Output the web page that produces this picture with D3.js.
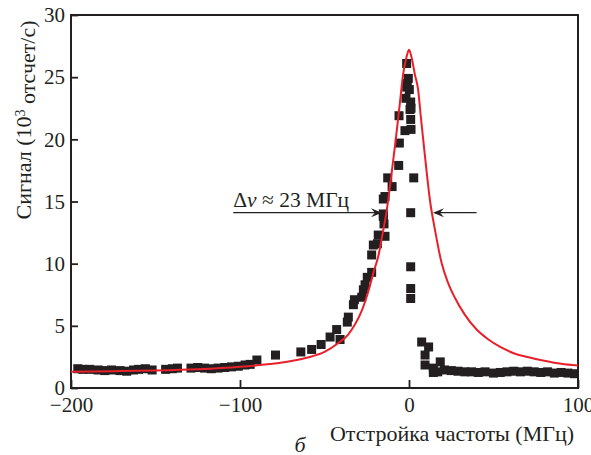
<!DOCTYPE html>
<html>
<head>
<meta charset="utf-8">
<script src="https://cdn.jsdelivr.net/npm/d3@7"></script>
<style>
  body { margin: 0; background: #fff; }
  svg { display: block; }
  text { font-family: "Liberation Serif", "DejaVu Serif", serif; fill: #231f20; }
</style>
</head>
<body>
<svg id="chart" width="591" height="455"></svg>
<script>
// ---- data ----
const xTicks = [-200, -100, 0, 100];
const yTicks = [0, 5, 10, 15, 20, 25, 30];

// measured points (detuning MHz, signal 10^3 counts/s)
const measX = [
  -196, -193, -189, -184, -180, -176, -171, -167, -163, -160, -156, -152,
  -144, -140, -137, -129, -125, -121, -117, -113, -109, -105, -101, -97, -94,
  -90, -79, -64, -57.6, -52, -46.7, -42.8, -40.8, -36.5, -35.9, -32.9, -32.3,
  -28, -27, -26, -24.7, -22.1, -22.1, -21.1, -18.7, -18.2, -14.2, -14.8, -15.2,
  -14.2, -15.2, -15.2, -10, -12.6, -6.1, -5.7, -5.9, -2.4, -1.8, -1.4, -1.4, -1, -0.4,
  0.2, 0.6, 1, 1, 1.2, 1.2, 2.8, 1, 1, 1, 1,
  7.5, 11.6, 9.5, 9.5, 18.5, 14.4, 14.4,
  17, 21, 25, 29, 33, 37, 41, 45, 50, 54, 58, 62, 66, 70, 74, 78, 82, 86, 90, 94, 98
];
const measY = [
  1.55, 1.5, 1.5, 1.45, 1.4, 1.45, 1.4, 1.35, 1.45, 1.5, 1.55, 1.45,
  1.5, 1.55, 1.6, 1.6, 1.65, 1.6, 1.55, 1.6, 1.65, 1.7, 1.75, 1.85, 1.9,
  2.25, 2.65, 2.9, 3.1, 3.5, 4.1, 4.7, 3.9, 5.3, 5.7, 6.7, 7.1,
  7.3, 7.9, 8.3, 8.9, 9.3, 10.7, 11.5, 11.6, 12.3, 12.2, 13.2, 13.8,
  15.4, 15.2, 14.0, 16.2, 16.9, 17.9, 19.7, 21.9, 20.7, 23.3, 24.2, 26.1, 24.5, 24.9,
  24.0, 22.4, 23.0, 21.6, 20.8, 22.5, 16.9, 14.1, 9.75, 8.0, 7.2,
  3.7, 3.3, 2.65, 1.85, 2.1, 1.6, 1.25,
  1.3, 1.45, 1.4, 1.35, 1.3, 1.3, 1.25, 1.3, 1.2, 1.25, 1.3, 1.35, 1.3, 1.35, 1.3, 1.25, 1.3, 1.2, 1.25, 1.2, 1.15
];

// red fitted curve
const fitX = [-200, -175, -150, -125, -100, -88, -75, -60, -50, -42, -36, -32, -28, -24, -21, -18,
  -15.5, -13.5, -11, -8, -5.5, -3.5, -1.5, 0, 1.5, 3.5, 5.4, 7, 8.4, 10.5, 12.4, 15.4, 19.3, 23,
  27, 33, 40, 47, 54, 62, 70, 80, 90, 100];
const fitY = [1.3, 1.35, 1.4, 1.5, 1.7, 1.85, 2.05, 2.45, 2.9, 3.6, 4.3, 5.1, 6.2, 7.8, 9.3, 10.7,
  12.5, 14.0, 16.5, 19.8, 22.8, 25.2, 26.6, 27.2, 26.6, 25.2, 24.0, 21.8, 20.0, 17.3, 15.1, 12.7, 10.05, 8.5,
  7.3, 5.9, 4.7, 3.9, 3.3, 2.8, 2.5, 2.2, 1.95, 1.8];

// annotation (linewidth arrows)
const annText = "≈ 23 МГц";
const annArrowY = 14.1;
const annLeft = [-104, -16];   // tail, head
const annRight = [40, 14.2];   // tail, head

const xTitle = "Отстройка частоты (МГц)";
const panelLabel = "б";

// ---- layout ----
const svg = d3.select("#chart");
const L = 71, R = 578, T = 15, B = 388;
const x = d3.scaleLinear().domain([-200, 100]).range([L, R]);
const y = d3.scaleLinear().domain([0, 30]).range([B, T]);
const ink = "#231f20";

svg.append("defs").append("clipPath").attr("id", "clip")
  .append("rect").attr("x", L).attr("y", T).attr("width", R - L).attr("height", B - T);

// axes
const yAxis = svg.append("g").attr("transform", `translate(${L},0)`)
  .call(d3.axisLeft(y).tickValues(yTicks).tickSize(-7).tickPadding(6).tickFormat(d3.format("d")));
const xAxis = svg.append("g").attr("transform", `translate(0,${B})`)
  .call(d3.axisBottom(x).tickValues(xTicks).tickSize(-8).tickPadding(9).tickFormat(d3.format("d")));
[xAxis, yAxis].forEach(g => {
  g.select(".domain").remove();
  g.selectAll(".tick line").attr("stroke", ink).attr("stroke-width", 1.8);
  g.selectAll(".tick text").style("font-size", "21px").attr("fill", ink);
});

// frame
svg.append("rect").attr("x", L).attr("y", T).attr("width", R - L).attr("height", B - T)
  .attr("fill", "none").attr("stroke", ink).attr("stroke-width", 2);

const plot = svg.append("g").attr("clip-path", "url(#clip)");

// squares
const pts = measX.map((v, i) => [v, measY[i]]);
const s = 9;
plot.selectAll("rect.pt").data(pts).join("rect").attr("class", "pt")
  .attr("x", d => x(d[0]) - s / 2).attr("y", d => y(d[1]) - s / 2)
  .attr("width", s).attr("height", s).attr("fill", ink);

// red curve
const fit = fitX.map((v, i) => [v, fitY[i]]);
plot.append("path").datum(fit)
  .attr("d", d3.line().x(d => x(d[0])).y(d => y(d[1])).curve(d3.curveMonotoneX))
  .attr("fill", "none").attr("stroke", "#e8202a").attr("stroke-width", 2);

// arrows
function arrow(tail, head) {
  const y0 = y(annArrowY), xt = x(tail), xh = x(head);
  const dir = Math.sign(xh - xt);
  svg.append("line").attr("x1", xt).attr("x2", xh - dir * 2).attr("y1", y0).attr("y2", y0)
    .attr("stroke", ink).attr("stroke-width", 1.2);
  svg.append("path")
    .attr("d", `M${xh},${y0} L${xh - dir * 11},${y0 - 4.5} L${xh - dir * 7},${y0} L${xh - dir * 11},${y0 + 4.5} Z`)
    .attr("fill", ink);
}
arrow(annLeft[0], annLeft[1]);
arrow(annRight[0], annRight[1]);

const ann = svg.append("text").attr("x", x(annLeft[0])).attr("y", y(annArrowY) - 6)
  .style("font-size", "21.5px");
ann.append("tspan").text("Δ");
ann.append("tspan").style("font-style", "italic").text("ν");
ann.append("tspan").text(" " + annText);

// axis titles
svg.append("text").attr("x", 452).attr("y", 441).attr("text-anchor", "middle")
  .style("font-size", "22px").text(xTitle);

const yt = svg.append("text").attr("transform", "translate(31,120) rotate(-90)")
  .attr("text-anchor", "middle").style("font-size", "22px");
yt.append("tspan").text("Сигнал (10");
yt.append("tspan").attr("dy", "-0.45em").style("font-size", "14px").text("3");
yt.append("tspan").attr("dy", "0.45em").text(" отсчет/с)");

svg.append("text").attr("x", 300).attr("y", 452).attr("text-anchor", "middle")
  .style("font-size", "22px").style("font-style", "italic").text(panelLabel);
</script>
</body>
</html>
